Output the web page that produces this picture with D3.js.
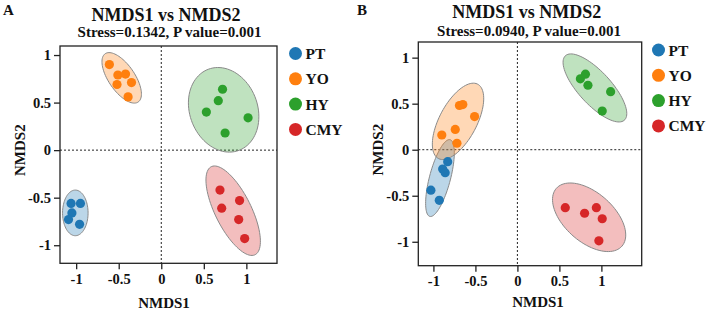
<!DOCTYPE html>
<html>
  <head>
    <meta charset="utf-8">
    <style>
      body { margin: 0; background: #fff; }
      svg text { font-family: "Times New Roman", "Liberation Serif", serif; font-weight: bold; fill: #111; }
      .axis path, .axis line { stroke: #222; stroke-width: 1.3px; }
      .axis text { font-size: 14.5px; }
      .zero { stroke: #222; stroke-width: 1px; stroke-dasharray: 2,2; }
      .frame { fill: none; stroke: #222; stroke-width: 1.3px; }
    </style>
  </head>
  <body>
    <script src="https://d3js.org/d3.v7.min.js"></script>
    <script>
    var width = 709, height = 310;

    var groups = ["PT", "YO", "HY", "CMY"];
    var colors = ["#1f77b4", "#ff7f0e", "#2ca02c", "#d62728"];
    var tickVals = [-1, -0.5, 0, 0.5, 1];

    // panel A points (NMDS1, NMDS2)
    var A_PT  = [[-1.06,-0.56],[-0.95,-0.56],[-1.05,-0.66],[-1.09,-0.73],[-0.96,-0.78]];
    var A_YO  = [[-0.61,0.90],[-0.51,0.79],[-0.42,0.80],[-0.52,0.69],[-0.35,0.71],[-0.39,0.56]];
    var A_HY  = [[0.72,0.64],[0.67,0.52],[0.53,0.40],[1.02,0.34],[0.75,0.18]];
    var A_CMY = [[0.69,-0.42],[0.92,-0.53],[0.71,-0.61],[0.91,-0.73],[0.98,-0.93]];
    // confidence ellipses: cx, cy, r1, r2, angle (deg)
    var A_ell = [[-1.01,-0.66,0.24,0.15,90],[-0.465,0.76,0.32,0.148,-51],[0.733,0.424,0.466,0.39,-57],[0.845,-0.637,0.53,0.207,-60]];

    // panel B points
    var B_PT  = [[-0.83,-0.13],[-0.89,-0.21],[-0.86,-0.25],[-1.03,-0.44],[-0.93,-0.55]];
    var B_YO  = [[-0.69,0.48],[-0.65,0.49],[-0.51,0.36],[-0.90,0.16],[-0.74,0.22],[-0.72,0.07]];
    var B_HY  = [[0.75,0.77],[0.81,0.82],[0.84,0.70],[1.11,0.63],[1.01,0.42]];
    var B_CMY = [[0.57,-0.63],[0.80,-0.69],[0.94,-0.63],[1.01,-0.75],[0.97,-0.99]];
    var B_ell = [[-0.922,-0.308,0.434,0.124,73.6],[-0.707,0.308,0.467,0.218,58.7],[0.923,0.671,0.496,0.186,-44],[0.854,-0.734,0.502,0.277,-36.5]];

    var svg = d3.select("body").append("svg")
        .attr("width", width)
        .attr("height", height);

    function drawPanel(p) {
      var x = d3.scaleLinear().domain(p.xdom).range([p.left, p.right]);
      var y = d3.scaleLinear().domain(p.ydom).range([p.bottom, p.top]);
      var g = svg.append("g");

      // zero lines
      g.append("line").attr("class", "zero")
          .attr("x1", x(0)).attr("x2", x(0)).attr("y1", p.top).attr("y2", p.bottom);
      g.append("line").attr("class", "zero")
          .attr("x1", p.left).attr("x2", p.right).attr("y1", y(0)).attr("y2", y(0));

      // ellipses
      var line = d3.line().curve(d3.curveLinearClosed);
      p.ell.forEach(function(e, i) {
        var phi = e[4] * Math.PI / 180, pts = [];
        for (var k = 0; k < 90; k++) {
          var t = k / 90 * 2 * Math.PI;
          var dx = e[2] * Math.cos(t) * Math.cos(phi) - e[3] * Math.sin(t) * Math.sin(phi);
          var dy = e[2] * Math.cos(t) * Math.sin(phi) + e[3] * Math.sin(t) * Math.cos(phi);
          pts.push([x(e[0] + dx), y(e[1] + dy)]);
        }
        g.append("path").attr("d", line(pts))
            .attr("fill", colors[i]).attr("fill-opacity", 0.3)
            .attr("stroke", "#8a8a8a").attr("stroke-width", 1);
      });

      // points
      p.pts.forEach(function(arr, i) {
        g.selectAll(null).data(arr).enter().append("circle")
            .attr("cx", function(d) { return x(d[0]); })
            .attr("cy", function(d) { return y(d[1]); })
            .attr("r", 4.6)
            .attr("fill", colors[i]);
      });

      // frame + axes
      g.append("rect").attr("class", "frame")
          .attr("x", p.left).attr("y", p.top)
          .attr("width", p.right - p.left).attr("height", p.bottom - p.top);
      var fmt = function(d) { return String(d); };
      g.append("g").attr("class", "axis")
          .attr("transform", "translate(0," + p.bottom + ")")
          .call(d3.axisBottom(x).tickValues(tickVals).tickFormat(fmt).tickSize(6).tickPadding(4))
          .call(function(s) { s.select(".domain").remove(); });
      g.append("g").attr("class", "axis")
          .attr("transform", "translate(" + p.left + ",0)")
          .call(d3.axisLeft(y).tickValues(tickVals).tickFormat(fmt).tickSize(6).tickPadding(3))
          .call(function(s) { s.select(".domain").remove(); });

      // titles
      g.append("text").attr("x", p.titleX).attr("y", p.titleY)
          .attr("text-anchor", "middle").style("font-size", "18px").text("NMDS1 vs NMDS2");
      g.append("text").attr("x", p.subX).attr("y", p.subY)
          .attr("text-anchor", "middle").style("font-size", "15px").text(p.sub);
      g.append("text").attr("x", p.labX).attr("y", 15)
          .style("font-size", "15px").text(p.label);
      g.append("text").attr("x", p.xlabX).attr("y", p.xlabY)
          .attr("text-anchor", "middle").style("font-size", "15px").text("NMDS1");
      g.append("text").attr("transform", "translate(" + p.ylabX + "," + y(0) + ") rotate(-90)")
          .attr("text-anchor", "middle").style("font-size", "15px").text("NMDS2");

      // legend
      groups.forEach(function(name, i) {
        var ly = p.legY + i * 25.3;
        g.append("circle").attr("cx", p.legX).attr("cy", ly).attr("r", 6.5).attr("fill", colors[i]);
        g.append("text").attr("x", p.legX + 10).attr("y", ly + 5.5)
            .style("font-size", "15.5px").text(name);
      });
    }

    drawPanel({
      xdom: [-1.19, 1.36], ydom: [-1.19, 1.095],
      left: 60, right: 277, top: 46, bottom: 263.3,
      ell: A_ell, pts: [A_PT, A_YO, A_HY, A_CMY],
      titleX: 166, titleY: 20.5, sub: "Stress=0.1342, P value=0.001", subX: 169.5, subY: 36.5,
      label: "A", labX: 3, xlabX: 164, xlabY: 308, ylabX: 25,
      legX: 295.5, legY: 53.5
    });
    drawPanel({
      xdom: [-1.18, 1.48], ydom: [-1.26, 1.17],
      left: 418.3, right: 641.7, top: 42, bottom: 265.7,
      ell: B_ell, pts: [B_PT, B_YO, B_HY, B_CMY],
      titleX: 526.7, titleY: 17.5, sub: "Stress=0.0940, P value=0.001", subX: 529, subY: 35.5,
      label: "B", labX: 357, xlabX: 538, xlabY: 306.5, ylabX: 383,
      legX: 658.5, legY: 50
    });
    </script>
  </body>
</html>
